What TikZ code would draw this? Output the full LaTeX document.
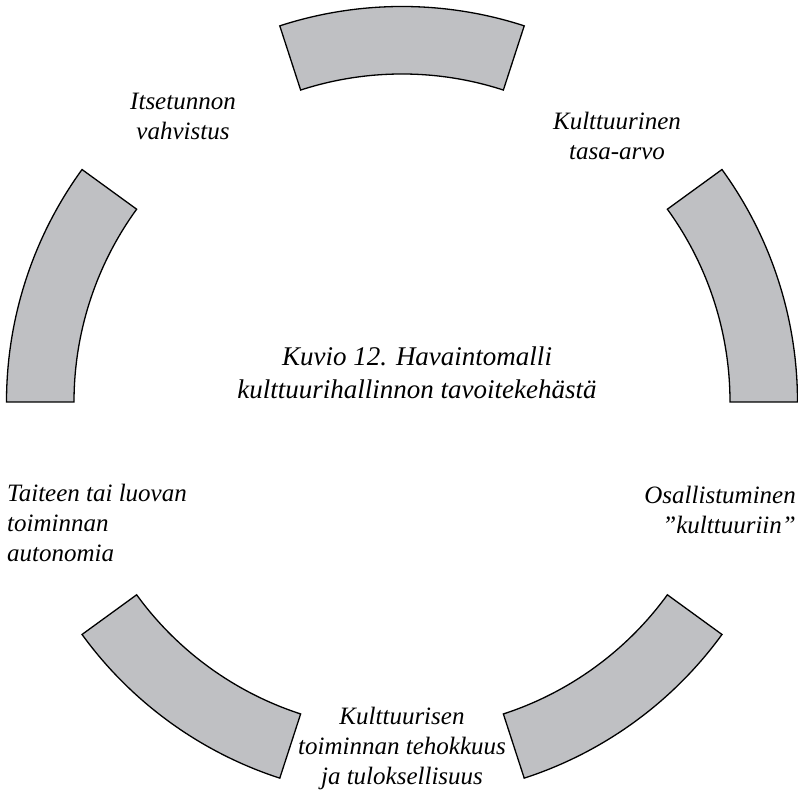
\documentclass[tikz,border=0pt]{standalone}
\usepackage{fontspec}
\setmainfont{Liberation Serif}
\usetikzlibrary{calc}
\definecolor{segfill}{RGB}{191,192,195}
\tikzset{
  seg/.style={fill=segfill, draw=black, line width=1.3pt, line join=miter},
  lbl/.style={inner sep=0pt, font=\fontsize{25}{30}\selectfont\itshape},
  ttl/.style={inner sep=0pt, font=\fontsize{27}{32.5}\selectfont\itshape, align=center},
}
\newcommand{\ringseg}[1]{%
  \path[seg] ($(C)+(#1:328)$) -- ($(C)+(#1:395.5)$)
    arc[start angle=#1, end angle=#1+36, radius=395.5]
    -- ($(C)+(#1+36:328)$)
    arc[start angle=#1+36, end angle=#1, radius=328] -- cycle;}
\begin{document}
\begin{tikzpicture}[x=1pt,y=1pt]
  \useasboundingbox (0,0) rectangle (798,798);
  \coordinate (C) at (402,396);
  % five ring segments, every 72 degrees
  \foreach \a in {0,72,144,216,288} {\ringseg{\a}}
  % labels around the ring
  \node[lbl, align=center] (selfesteem) at (183,682) {Itsetunnon\\vahvistus};
  \node[lbl, align=center] (equality) at (617,662) {Kulttuurinen\\tasa-arvo};
  \node[lbl, align=left, anchor=west] (autonomy) at (7,275) {Taiteen tai luovan\\toiminnan\\autonomia};
  \node[lbl, align=right, anchor=east] (participation) at (796,288) {Osallistuminen\\”kulttuuriin”};
  \node[lbl, align=center] (efficiency) at (402,50) {Kulttuurisen\\toiminnan tehokkuus\\ja tuloksellisuus};
  % caption in the middle
  \node[ttl] (caption) at (417,425) {Kuvio 12. Havaintomalli\\kulttuurihallinnon tavoitekehästä};
\end{tikzpicture}
\end{document}
